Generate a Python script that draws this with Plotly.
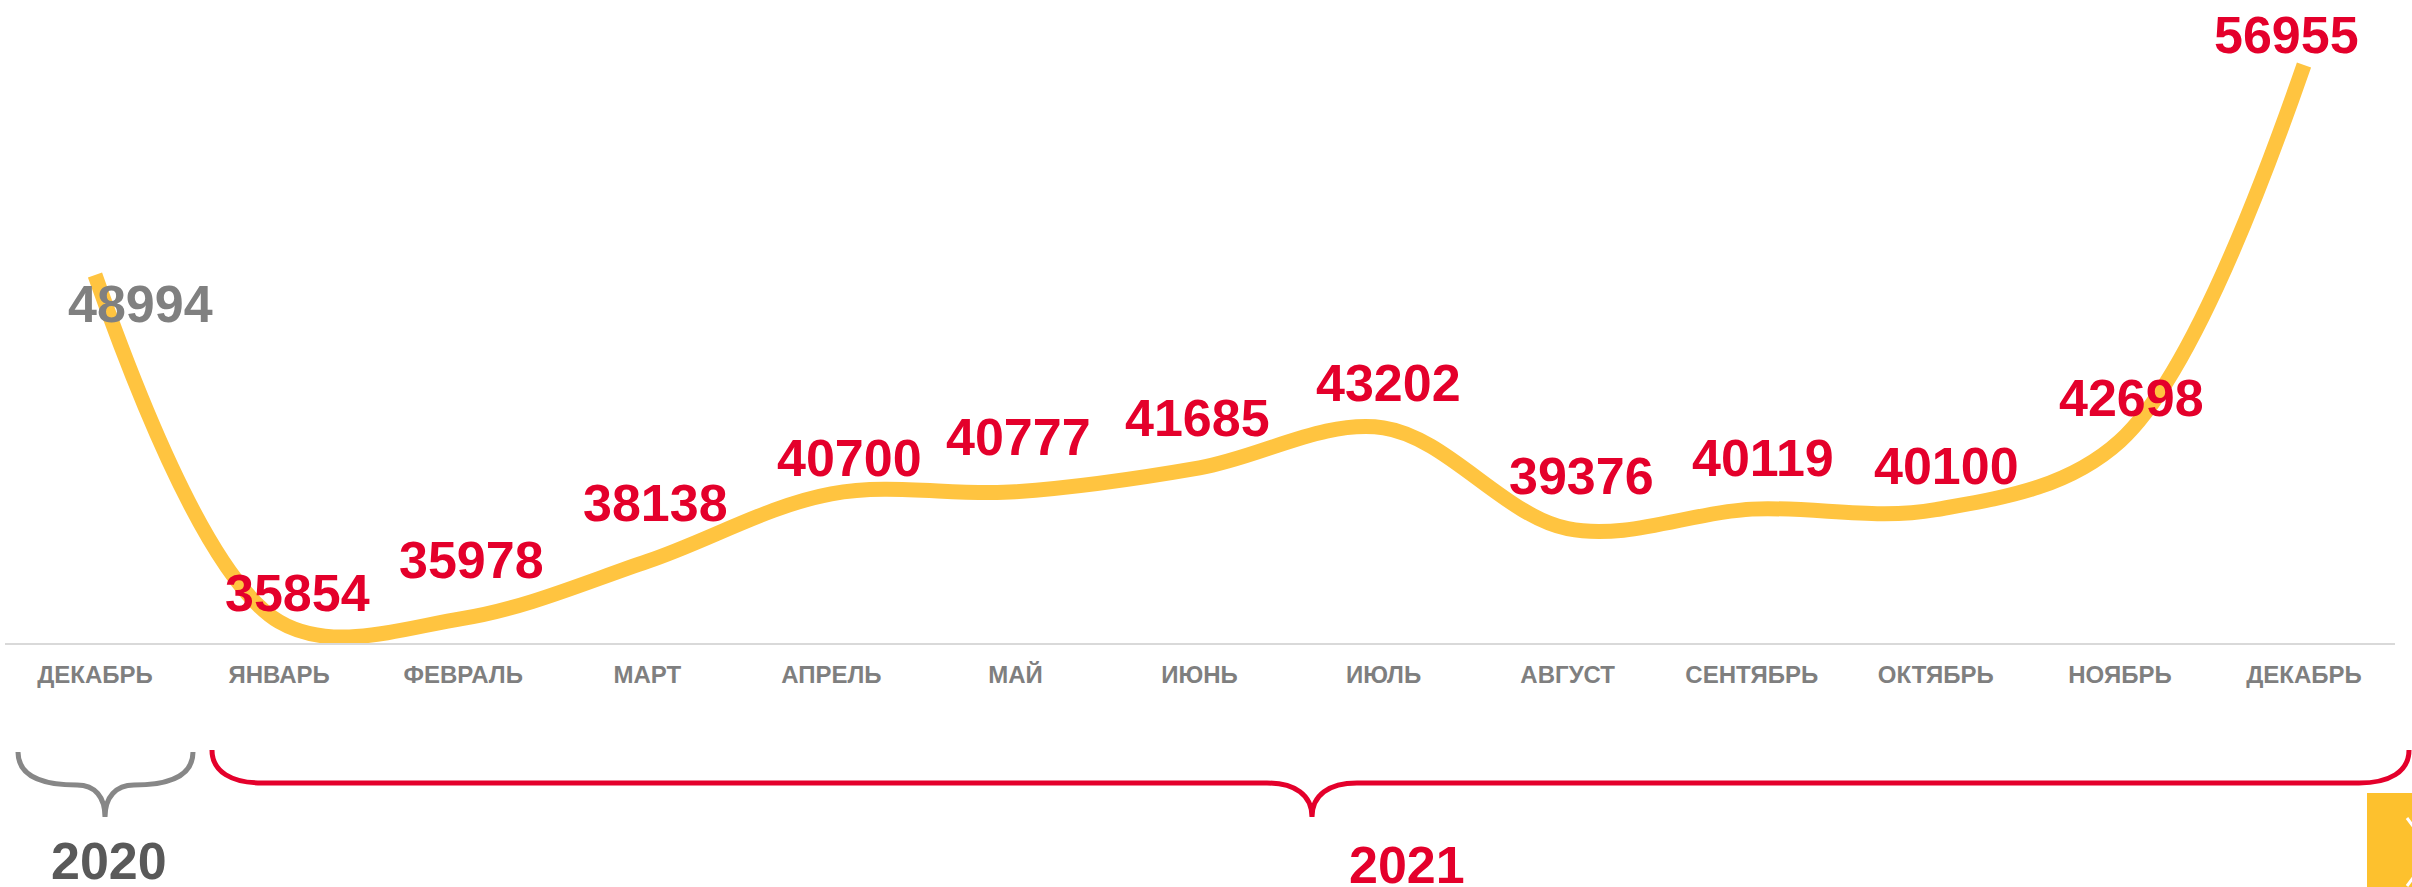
import plotly.graph_objects as go

# ---- data ----
months = ["ДЕКАБРЬ", "ЯНВАРЬ", "ФЕВРАЛЬ", "МАРТ", "АПРЕЛЬ", "МАЙ", "ИЮНЬ",
          "ИЮЛЬ", "АВГУСТ", "СЕНТЯБРЬ", "ОКТЯБРЬ", "НОЯБРЬ", "ДЕКАБРЬ"]
values = [48994, 35854, 35978, 38138, 40700, 40777, 41685,
          43202, 39376, 40119, 40100, 42698, 56955]
years = ["2020", "2021"]

# ---- styles ----
label_dx = [45, 18, 8, 8, 18, 3, -2, 5, 14, 11, 11, 12, -18]
label_dy = [-29, 29, 58, 58, 36, 55, 50, 45, 53, 51, 44, 43, 30]
RED = "#E4002B"
GREY_LABEL = "#808080"
YELLOW = "#FFC440"
FONT = "Liberation Sans, Arial, sans-serif"

W, H = 2412, 887
L, R, T, B = 5, 17, 0, 244
PW, PH = W - L - R, H - T - B


def px(X):
    return (X - L) / PW


def py(Y):
    return (H - B - Y) / PH


def path(cmds):
    out = []
    for c in cmds:
        op, pts = c[0], c[1:]
        out.append(op + " " + " ".join(f"{px(a):.5f},{py(b):.5f}" for a, b in pts))
    return " ".join(out)


xs = list(range(len(months)))

fig = go.Figure()
fig.add_trace(go.Scatter(
    x=xs, y=values, mode="lines",
    line=dict(color=YELLOW, width=15, shape="spline", smoothing=1.0),
    hoverinfo="skip", showlegend=False,
))

annotations = []
for i, v in enumerate(values):
    annotations.append(dict(
        x=xs[i], y=v, xref="x", yref="y", text=str(v), showarrow=False,
        xshift=label_dx[i], yshift=label_dy[i],
        xanchor="center", yanchor="middle",
        font=dict(family=FONT, size=52, weight="bold",
                  color=GREY_LABEL if i == 0 else RED),
    ))

# year labels
annotations.append(dict(
    x=px(109), y=py(861), xref="paper", yref="paper", text=years[0],
    showarrow=False, xanchor="center", yanchor="middle",
    font=dict(family=FONT, size=52, weight="bold", color="#595959"),
))
annotations.append(dict(
    x=px(1407), y=py(865), xref="paper", yref="paper", text=years[1],
    showarrow=False, xanchor="center", yanchor="middle",
    font=dict(family=FONT, size=52, weight="bold", color=RED),
))

shapes = []
# grey brace (2020)
shapes.append(dict(
    type="path", xref="paper", yref="paper",
    path=path([("M", (18, 752)), ("C", (18, 775), (40, 785), (77, 785)),
               ("C", (95, 785), (105, 797), (105, 817)),
               ("M", (193, 752)), ("C", (193, 775), (171, 785), (134, 785)),
               ("C", (116, 785), (105, 797), (105, 817))]),
    line=dict(color="#878787", width=5),
))
# red brace (2021)
shapes.append(dict(
    type="path", xref="paper", yref="paper",
    path=path([("M", (212, 750)), ("C", (212, 772), (232, 783), (262, 783)),
               ("L", (1267, 783)), ("C", (1295, 783), (1312, 795), (1312, 817)),
               ("M", (2409, 750)), ("C", (2409, 772), (2389, 783), (2359, 783)),
               ("L", (1357, 783)), ("C", (1329, 783), (1312, 795), (1312, 817))]),
    line=dict(color=RED, width=5),
))
# yellow corner button
shapes.append(dict(
    type="rect", xref="paper", yref="paper",
    x0=px(2367), x1=px(2420), y0=py(793), y1=py(890),
    fillcolor="#FDC12E", line=dict(width=0),
))
shapes.append(dict(
    type="path", xref="paper", yref="paper",
    path=path([("M", (2407, 818)), ("L", (2432, 852)), ("L", (2407, 886))]),
    line=dict(color="white", width=3),
))

x_step = (2304 - 95) / 12
xmin = -(95 - L) / x_step
xmax = xmin + PW / x_step

fig.update_layout(
    width=W, height=H,
    margin=dict(l=L, r=R, t=T, b=B, pad=0),
    paper_bgcolor="white", plot_bgcolor="white",
    showlegend=False,
    annotations=annotations,
    shapes=shapes,
    xaxis=dict(
        range=[xmin, xmax], tickmode="array", tickvals=xs, ticktext=months,
        showgrid=False, zeroline=False, showline=True,
        linecolor="#D9D9D9", linewidth=2,
        ticks="outside", ticklen=9, tickcolor="rgba(0,0,0,0)",
        tickfont=dict(family=FONT, size=24, weight="bold", color="#7F7F7F"),
        fixedrange=True,
    ),
    yaxis=dict(range=[35044, 59419], visible=False, fixedrange=True),
)

fig.write_html(
    "out.html",
    config={"displayModeBar": False, "staticPlot": True},
    post_script="document.body.style.margin='0';document.body.style.overflow='hidden';",
)
